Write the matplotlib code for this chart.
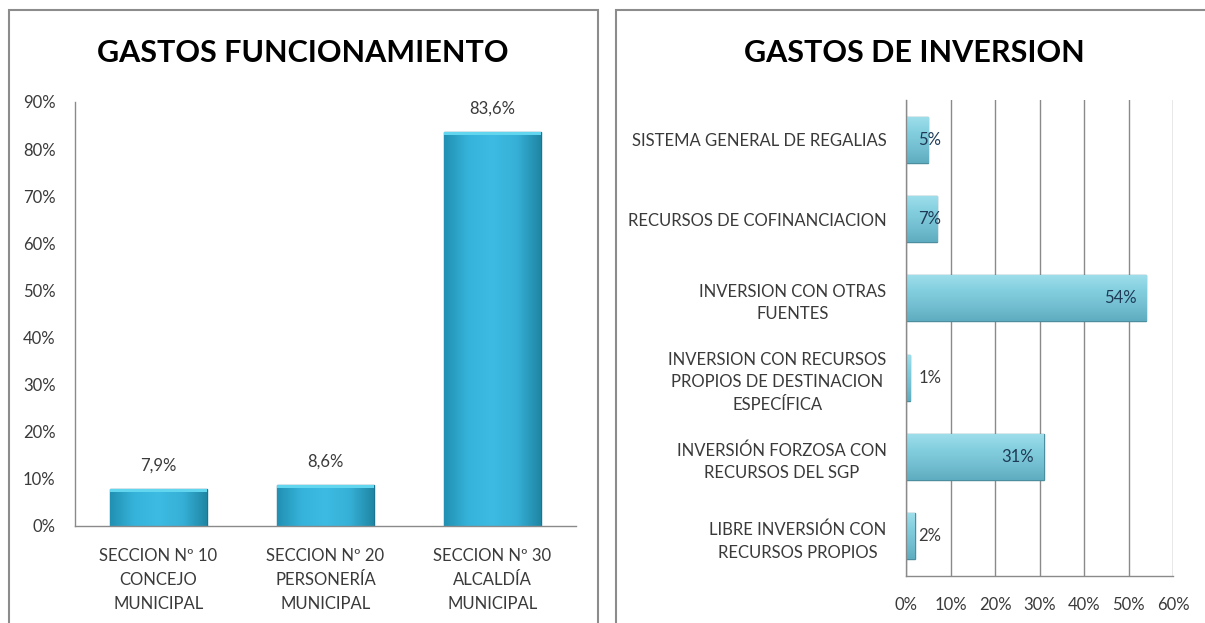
import numpy as np
import matplotlib
matplotlib.use("Agg")
import matplotlib.pyplot as plt
from matplotlib.patches import Rectangle
from matplotlib.colors import LinearSegmentedColormap
from matplotlib.ticker import MultipleLocator, FuncFormatter

plt.rcParams['font.family'] = ['Lato', 'DejaVu Sans']

# ---------------- data ----------------
func_categories = ["SECCION Nº 10\nCONCEJO\nMUNICIPAL",
                   "SECCION Nº 20\nPERSONERÍA\nMUNICIPAL",
                   "SECCION Nº 30\nALCALDÍA\nMUNICIPAL"]
func_values = [7.9, 8.6, 83.6]
func_title = "GASTOS FUNCIONAMIENTO"

inv_categories = ["SISTEMA GENERAL DE REGALIAS",
                  "RECURSOS DE COFINANCIACION",
                  "INVERSION CON OTRAS\nFUENTES",
                  "INVERSION CON RECURSOS\nPROPIOS DE DESTINACION\nESPECÍFICA",
                  "INVERSIÓN FORZOSA CON\nRECURSOS DEL SGP",
                  "LIBRE INVERSIÓN CON\nRECURSOS PROPIOS"]
inv_values = [5, 7, 54, 1, 31, 2]
inv_title = "GASTOS DE INVERSION"

W, H = 1205, 623
fig = plt.figure(figsize=(W / 100, H / 100), dpi=100)
fig.patch.set_facecolor("white")

TXT = "#3a3a3a"
AXC = "#8a8a8a"

def fx(px):
    return px / W

def fy(py):
    return 1 - py / H

# panel borders
fig.patches.append(Rectangle((fx(9), -0.02), fx(598) - fx(9), fy(10) + 0.02,
                             transform=fig.transFigure, fill=False,
                             edgecolor="#8c8c8c", lw=1.5))
fig.patches.append(Rectangle((fx(616), -0.02), 1.1 - fx(616), fy(10) + 0.02,
                             transform=fig.transFigure, fill=False,
                             edgecolor="#8c8c8c", lw=1.5))

# titles
fig.text(fx(303), fy(53), func_title, ha="center", va="center",
         fontsize=22, fontweight="bold", color="black")
fig.text(fx(914), fy(53), inv_title, ha="center", va="center",
         fontsize=22, fontweight="bold", color="black")

def gradient_fill(ax, bars, cmap, horizontal):
    for b in bars:
        x0, y0 = b.get_x(), b.get_y()
        w, h = b.get_width(), b.get_height()
        g = np.linspace(0, 1, 256)
        img = g[None, :] if horizontal else g[:, None]
        im = ax.imshow(img, cmap=cmap, aspect="auto",
                       extent=(x0, x0 + w, y0 + h, y0) if not horizontal else (x0, x0 + w, y0, y0 + h),
                       origin="upper", zorder=b.get_zorder() + 0.1, interpolation="bicubic")
        im.set_clip_path(b)

# ---------------- left chart ----------------
ax1 = fig.add_axes([fx(75), fy(526), fx(576) - fx(75), fy(102) - fy(526)])
x1 = np.arange(len(func_values))
bars1 = ax1.bar(x1, func_values, width=0.58, color="#33afd6",
                edgecolor="#1b7391", linewidth=1.0, zorder=2)
cmap1 = LinearSegmentedColormap.from_list(
    "c1", ["#2190b2", "#36b3da", "#3dbbe2", "#36b0d7", "#1f86a4"])
gradient_fill(ax1, bars1, cmap1, horizontal=True)
# thin bright top cap
for b in bars1:
    ax1.add_patch(Rectangle((b.get_x(), b.get_height() - 0.6), b.get_width(), 0.6,
                            facecolor="#62d6ef", edgecolor="none", zorder=3))
ax1.set_xlim(-0.5, len(func_values) - 0.5)
ax1.set_ylim(0, 90)
ax1.yaxis.set_major_locator(MultipleLocator(10))
ax1.yaxis.set_major_formatter(FuncFormatter(lambda v, p: f"{v:.0f}%"))
ax1.set_xticks(x1)
ax1.set_xticklabels(func_categories, linespacing=1.6)
ax1.tick_params(axis="both", length=0, labelsize=12, colors=TXT)
ax1.tick_params(axis="y", pad=14)
ax1.tick_params(axis="x", pad=16)
for s in ["top", "right"]:
    ax1.spines[s].set_visible(False)
for s in ["left", "bottom"]:
    ax1.spines[s].set_color(AXC)
    ax1.spines[s].set_linewidth(1.0)
for xi, v in zip(x1, func_values):
    ax1.annotate(f"{v:.1f}%".replace(".", ","), (xi, v), xytext=(0, 17),
                 textcoords="offset points", ha="center", va="center",
                 fontsize=12, color=TXT)

# ---------------- right chart ----------------
ax2 = fig.add_axes([fx(906), fy(576), fx(1173) - fx(906), fy(100) - fy(576)])
y2 = np.arange(len(inv_values))
bars2 = ax2.barh(y2, inv_values, height=0.58, color="#78c6d8",
                 edgecolor="#4c8e9e", linewidth=1.0, zorder=2)
cmap2 = LinearSegmentedColormap.from_list(
    "c2", ["#a0dfeb", "#84cfdf", "#74c0d2", "#5eacbf"])
gradient_fill(ax2, bars2, cmap2, horizontal=False)
ax2.set_xlim(0, 60)
ax2.set_ylim(len(inv_values) - 0.5, -0.5)
ax2.xaxis.set_major_locator(MultipleLocator(10))
ax2.xaxis.set_major_formatter(FuncFormatter(lambda v, p: f"{v:.0f}%"))
ax2.set_yticks(y2)
ax2.set_yticklabels(inv_categories, linespacing=1.5, ha="right", multialignment="center")
ax2.tick_params(axis="both", length=0, labelsize=12, colors=TXT)
ax2.tick_params(axis="y", pad=14)
ax2.tick_params(axis="x", pad=15)
ax2.grid(axis="x", color=AXC, linewidth=1.0, zorder=0)
ax2.set_axisbelow(True)
for s in ["top", "right"]:
    ax2.spines[s].set_visible(False)
for s in ["left", "bottom"]:
    ax2.spines[s].set_color(AXC)
    ax2.spines[s].set_linewidth(1.0)
for yi, v in zip(y2, inv_values):
    if v >= 10:
        ax2.annotate(f"{v:.0f}%", (v, yi), xytext=(-7, 0), textcoords="offset points",
                     ha="right", va="center", fontsize=12, color="#1f3a57", zorder=5)
    else:
        ax2.annotate(f"{v:.0f}%", (0, yi), xytext=(9, 0), textcoords="offset points",
                     ha="left", va="center", fontsize=12,
                     color="#1f3a57" if v >= 3 else TXT, zorder=5)

fig.savefig("out.png", dpi=100, facecolor="white")
